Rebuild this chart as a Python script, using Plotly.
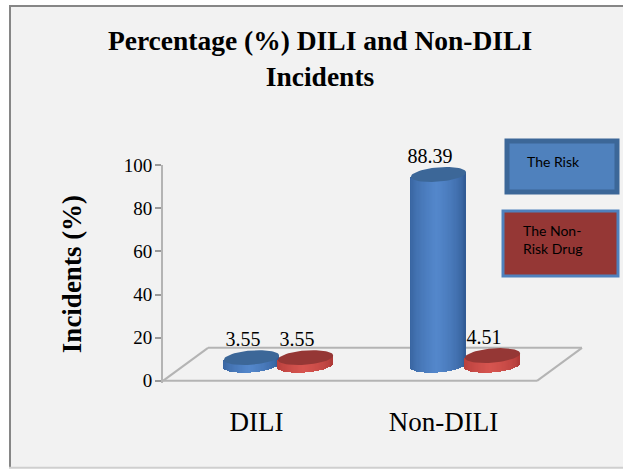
import numpy as np
import plotly.graph_objects as go

categories = ["DILI", "Non-DILI"]
risk_values = [3.55, 88.39]
nonrisk_values = [3.55, 4.51]
y_ticks = [0, 20, 40, 60, 80, 100]
series_names = ["The Risk", "The Non-Risk Drug"]

X0 = 163; X1 = 590; Y0 = 381; Y100 = 165
PX_X = 187.0
PX_Y = (Y0 - Y100) / 100.0
XMIN = -0.5
XMAX = XMIN + (X1 - X0) / PX_X
BASE = 7.2
A = 0.148
B = 3.3
TILT = 1.0


def shade(col_edge, col_mid, t):
    # t in [-1, 1] across the cylinder
    w = max(0.0, 1 - abs(t + 0.05)) ** 0.55
    c = [int(col_edge[i] + (col_mid[i] - col_edge[i]) * min(w, 1)) for i in range(3)]
    return f"rgb({c[0]},{c[1]},{c[2]})"


def bar_strips(centers, values, edge, mid, name):
    xs, bases, heights, colors = [], [], [], []
    for c, v in zip(centers, values):
        for t in np.linspace(-0.98, 0.98, 45):
            xs.append(c + t * A)
            bot = BASE - B * np.sqrt(1 - t * t) + TILT * t
            top = BASE + v + TILT * t
            bases.append(bot)
            heights.append(top - bot)
            colors.append(shade(edge, mid, t))
    return go.Bar(x=xs, y=heights, base=bases, width=2 * A / 45 * 1.25,
                  marker=dict(color=colors, line=dict(width=0)), name=name,
                  showlegend=False, hoverinfo="skip")


def top_cap(centers, values, color):
    xs, ys = [], []
    for c, v in zip(centers, values):
        th = np.linspace(0, 2 * np.pi, 60)
        xs += list(c + A * np.cos(th)) + [None]
        ys += list(BASE + v + B * np.sin(th) + TILT * np.cos(th)) + [None]
    return go.Scatter(x=xs, y=ys, mode="lines", fill="toself", fillcolor=color,
                      line=dict(width=0, color=color), showlegend=False, hoverinfo="skip")


pos = np.arange(len(categories))
risk_c = pos - 0.027
non_c = pos + 0.262

fig = go.Figure()
fig.add_trace(bar_strips(risk_c, risk_values, (50, 92, 150), (84, 136, 204), series_names[0]))
fig.add_trace(bar_strips(non_c, nonrisk_values, (175, 58, 55), (215, 85, 80), series_names[1]))
fig.add_trace(top_cap(risk_c, risk_values, "#3c6798"))
fig.add_trace(top_cap(non_c, nonrisk_values, "#953735"))

lab_x = list(risk_c - 0.045) + list(non_c - 0.045)
lab_v = risk_values + nonrisk_values
fig.add_trace(go.Scatter(
    x=lab_x, y=[v + 10.4 for v in lab_v], mode="text",
    text=[f"{v:.2f}" for v in lab_v], textposition="top center", cliponaxis=False,
    textfont=dict(family="Liberation Serif", size=20, color="#000000"),
    showlegend=False, hoverinfo="skip"))


def px(x):
    return (x - X0) / (X1 - X0)


def py(y):
    return (383.16 - y) / 218.16


GRAY = "#b4b4b4"
DEPTH_Y = 15.3
DEPTH_X = 45 / PX_X
floor = [(XMIN, 0, 1.5, 0), (1.5, 0, 1.5 + DEPTH_X, DEPTH_Y),
         (1.5 + DEPTH_X, DEPTH_Y, XMIN + DEPTH_X, DEPTH_Y), (XMIN + DEPTH_X, DEPTH_Y, XMIN, 0)]
shapes = [
    dict(type="rect", xref="paper", yref="paper", layer="below",
         x0=px(9), x1=px(640), y0=py(468), y1=py(6),
         fillcolor="#f2f2f2", line=dict(width=0)),
    dict(type="line", xref="paper", yref="paper", layer="below", x0=px(9), x1=px(640), y0=py(6), y1=py(6),
         line=dict(color="#868686", width=2)),
    dict(type="line", xref="paper", yref="paper", layer="below", x0=px(10), x1=px(10), y0=py(468), y1=py(6),
         line=dict(color="#868686", width=2)),
    dict(type="line", xref="paper", yref="paper", layer="below", x0=px(9), x1=px(640), y0=py(468), y1=py(468),
         line=dict(color="#cfcfcf", width=2)),
]
for a, b, c, d in floor:
    shapes.append(dict(type="line", xref="x", yref="y", x0=a, y0=b, x1=c, y1=d, layer="below",
                       line=dict(color=GRAY, width=2)))

shapes.append(dict(type="rect", xref="paper", yref="paper", x0=px(507), x1=px(617), y0=py(192), y1=py(141),
                   fillcolor="#4f81bd", line=dict(color="#3c6798", width=5)))
shapes.append(dict(type="rect", xref="paper", yref="paper", x0=px(503), x1=px(618), y0=py(276), y1=py(211),
                   fillcolor="#953735", line=dict(color="#4f81bd", width=3)))

annotations = [
    dict(text="The Risk", xref="paper", yref="paper", x=px(525), y=py(161), xanchor="left", yanchor="middle",
         showarrow=False, align="left", font=dict(family="Lato", size=14, color="#000000")),
    dict(text="The Non-<br>Risk Drug", xref="paper", yref="paper", x=px(521), y=py(240), xanchor="left",
         yanchor="middle", showarrow=False, align="left", font=dict(family="Lato", size=14, color="#000000")),
]

fig.update_layout(
    width=623, height=469, paper_bgcolor="#ffffff", plot_bgcolor="rgba(0,0,0,0)",
    margin=dict(l=X0, r=623 - X1, t=Y100, b=469 - 383.16, autoexpand=False),
    barmode="overlay", bargap=0, showlegend=False,
    title=dict(text="Percentage (%) DILI and Non-DILI<br>Incidents", x=320 / 623, xanchor="center",
               y=1 - 50 / 469, yanchor="top",
               font=dict(family="Liberation Serif", size=27.5, color="#000000", weight="bold")),
    shapes=shapes, annotations=annotations,
    font=dict(family="Liberation Serif", color="#000000"),
)
fig.update_xaxes(range=[XMIN, XMAX], tickmode="array", tickvals=list(pos), ticktext=categories,
                 showgrid=False, zeroline=False, showline=False, ticks="", ticklen=0, ticklabelstandoff=20,
                 tickfont=dict(family="Liberation Serif", size=27, color="#000000"), automargin=False)
fig.update_yaxes(range=[-1, 100], tickmode="array", tickvals=y_ticks, showgrid=False, zeroline=False,
                 showline=True, linecolor=GRAY, linewidth=2, ticks="outside", ticklen=6, tickcolor="#999999",
                 tickwidth=2, ticklabelstandoff=-1, tickfont=dict(family="Liberation Serif", size=19, color="#000000"),
                 title=dict(text="<b>Incidents (%)</b>", font=dict(family="Liberation Serif", size=27, color="#000000"),
                            standoff=34), automargin=False)

fig.write_html("out.html", config={"displayModeBar": False},
               post_script="document.body.style.margin='0';")
